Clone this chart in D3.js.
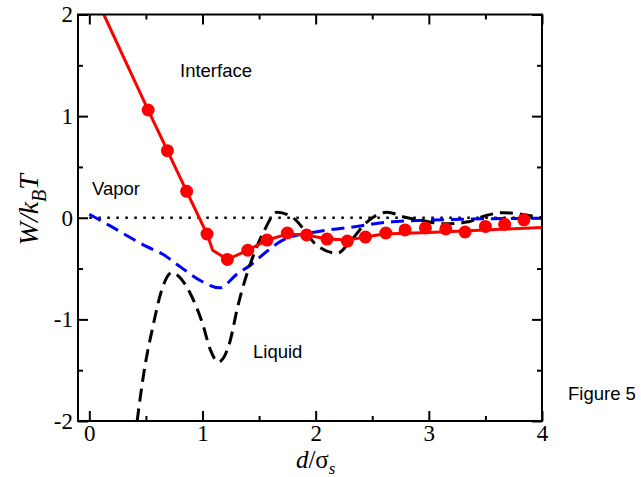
<!DOCTYPE html>
<html>
<head>
<meta charset="utf-8">
<script src="https://cdn.jsdelivr.net/npm/d3@7"></script>
<style>
  body { margin: 0; background: #fff; }
  svg text { fill: #000; }
</style>
</head>
<body>
<div id="chart"></div>
<script>
// interface (red) simulation points
const interfaceDots = [
    [0.52, 1.06], [0.69, 0.66], [0.86, 0.26], [1.04, -0.16], [1.22, -0.41],
    [1.40, -0.32], [1.57, -0.22], [1.75, -0.15], [1.92, -0.17], [2.10, -0.21],
    [2.28, -0.23], [2.44, -0.19], [2.62, -0.15], [2.79, -0.12], [2.97, -0.10],
    [3.15, -0.11], [3.32, -0.14], [3.50, -0.085], [3.67, -0.065], [3.84, -0.02]
];
// interface theory line
const interfaceLine = [
    [0.128, 2], [0.52, 1.06], [0.69, 0.66], [0.86, 0.26], [1.04, -0.16], [1.09, -0.32],
    [1.22, -0.41], [1.40, -0.32], [1.57, -0.22], [1.75, -0.16], [1.92, -0.17],
    [2.10, -0.21], [2.28, -0.22], [2.44, -0.19], [2.60, -0.16], [3.0, -0.145],
    [3.5, -0.12], [4.0, -0.095]
];
// vapor (blue dashed)
const vapor = [
    [0, 0.035], [0.2, -0.09], [0.5, -0.28], [0.65, -0.36], [0.8, -0.48], [1.0, -0.63],
    [1.15, -0.69], [1.31, -0.55], [1.42, -0.47], [1.57, -0.33], [1.71, -0.22],
    [2.0, -0.14], [2.3, -0.095], [2.68, -0.04], [3.3, -0.015], [4.0, -0.005]
];
// liquid (black dashed)
const liquid = [
    [0.40, -2.2], [0.49, -1.47], [0.56, -1.08], [0.64, -0.71], [0.73, -0.54], [0.81, -0.6],
    [0.89, -0.74], [1.0, -1.04], [1.07, -1.3], [1.14, -1.42], [1.24, -1.23], [1.31, -0.88],
    [1.45, -0.37], [1.54, -0.14], [1.66, 0.055], [1.8, 0.0], [2.01, -0.27], [2.19, -0.35],
    [2.3, -0.24], [2.45, -0.045], [2.63, 0.054], [2.79, 0.005], [2.95, -0.03], [3.15, -0.06],
    [3.35, -0.04], [3.5, 0.02], [3.66, 0.05], [3.87, 0.025], [4.0, 0.0]
];
const xMajor = [0, 1, 2, 3, 4];
const xMinor = [0.5, 1.5, 2.5, 3.5];
const yMajor = [-2, -1, 0, 1, 2];
const yMinor = [-1.5, -0.5, 0.5, 1.5];

const width = 641, height = 477;
const margin = { left: 78, top: 14.5, right: 99, bottom: 56 };
const w = width - margin.left - margin.right;
const h = height - margin.top - margin.bottom;

const svg = d3.select('#chart').append('svg')
    .attr('width', width)
    .attr('height', height);

const g = svg.append('g')
    .attr('transform', `translate(${margin.left},${margin.top})`);

const x = d3.scaleLinear().domain([-0.1, 4]).range([0, w]);
const y = d3.scaleLinear().domain([-2, 2]).range([h, 0]);

g.append('clipPath').attr('id', 'clip')
    .append('rect').attr('width', w).attr('height', h);

function styleAxis(sel) {
    sel.select('.domain').remove();
    sel.selectAll('.tick line').attr('stroke', '#000').attr('stroke-width', 2);
    sel.selectAll('.tick text')
        .style('font-family', '"Liberation Serif", "Times New Roman", serif')
        .style('font-size', '23px');
}

// major + minor ticks on all sides, pointing inward
g.append('g').attr('transform', `translate(0,${h})`)
    .call(d3.axisBottom(x).tickValues(xMajor).tickSize(-10).tickPadding(4).tickFormat(d3.format('d')))
    .call(styleAxis);
g.append('g').attr('transform', `translate(0,${h})`)
    .call(d3.axisBottom(x).tickValues(xMinor).tickSize(-5).tickFormat(''))
    .call(styleAxis);
g.append('g')
    .call(d3.axisTop(x).tickValues(xMajor).tickSize(-10).tickFormat(''))
    .call(styleAxis);
g.append('g')
    .call(d3.axisTop(x).tickValues(xMinor).tickSize(-5).tickFormat(''))
    .call(styleAxis);
g.append('g')
    .call(d3.axisLeft(y).tickValues(yMajor).tickSize(-10).tickPadding(5).tickFormat(d3.format('d')))
    .call(styleAxis);
g.append('g')
    .call(d3.axisLeft(y).tickValues(yMinor).tickSize(-5).tickFormat(''))
    .call(styleAxis);
g.append('g').attr('transform', `translate(${w},0)`)
    .call(d3.axisRight(y).tickValues(yMajor).tickSize(-10).tickFormat(''))
    .call(styleAxis);
g.append('g').attr('transform', `translate(${w},0)`)
    .call(d3.axisRight(y).tickValues(yMinor).tickSize(-5).tickFormat(''))
    .call(styleAxis);

// hyphen-style minus like the original
g.selectAll('.tick text').text(function () { return this.textContent.replace('\u2212', '-'); });

const line = d3.line().x(d => x(d[0])).y(d => y(d[1]));
const plot = g.append('g').attr('clip-path', 'url(#clip)');

// zero reference
plot.append('line')
    .attr('x1', x(0)).attr('x2', x(4))
    .attr('y1', y(0)).attr('y2', y(0))
    .attr('stroke', '#000').attr('stroke-width', 2.5)
    .attr('stroke-dasharray', '2.5,6.5');

plot.append('path').datum(vapor)
    .attr('d', line.curve(d3.curveMonotoneX))
    .attr('fill', 'none').attr('stroke', '#0000ff').attr('stroke-width', 3)
    .attr('stroke-dasharray', '13,7');

plot.append('path').datum(liquid)
    .attr('d', line.curve(d3.curveMonotoneX))
    .attr('fill', 'none').attr('stroke', '#000').attr('stroke-width', 3)
    .attr('stroke-dasharray', '13,7');

plot.append('path').datum(interfaceLine)
    .attr('d', line.curve(d3.curveLinear))
    .attr('fill', 'none').attr('stroke', '#ff0000').attr('stroke-width', 3);

plot.selectAll('circle').data(interfaceDots).enter()
    .append('circle')
    .attr('cx', d => x(d[0]))
    .attr('cy', d => y(d[1]))
    .attr('r', 6.5)
    .attr('fill', '#ff0000');

// frame
g.append('rect').attr('width', w).attr('height', h)
    .attr('fill', 'none').attr('stroke', '#000').attr('stroke-width', 2);

// labels
const sans = '"Liberation Sans", Arial, sans-serif';
const notes = [
    { text: 'Interface', x: 180, y: 77 },
    { text: 'Vapor', x: 92, y: 195 },
    { text: 'Liquid', x: 253, y: 358 },
    { text: 'Figure 5', x: 568, y: 400 }
];
svg.selectAll('text.note').data(notes).enter()
    .append('text').attr('class', 'note')
    .attr('x', d => d.x).attr('y', d => d.y)
    .style('font-family', sans).style('font-size', '18.5px')
    .text(d => d.text);

const serif = '"Liberation Serif", "Times New Roman", serif';
const xl = svg.append('text')
    .attr('x', margin.left + x(2)).attr('y', 468)
    .attr('text-anchor', 'middle')
    .style('font-family', serif).style('font-size', '25px');
xl.append('tspan').style('font-style', 'italic').text('d');
xl.append('tspan').text('/σ');
xl.append('tspan').attr('dy', 6).style('font-size', '17px').style('font-style', 'italic').text('s');

const yl = svg.append('text')
    .attr('transform', `translate(38,${margin.top + y(0) - 8}) rotate(-90)`)
    .attr('text-anchor', 'middle')
    .style('font-family', serif).style('font-size', '28px').style('font-style', 'italic');
yl.append('tspan').text('W/k');
yl.append('tspan').attr('dy', 8).style('font-size', '20px').text('B');
yl.append('tspan').attr('dy', -8).text('T');
</script>
</body>
</html>
